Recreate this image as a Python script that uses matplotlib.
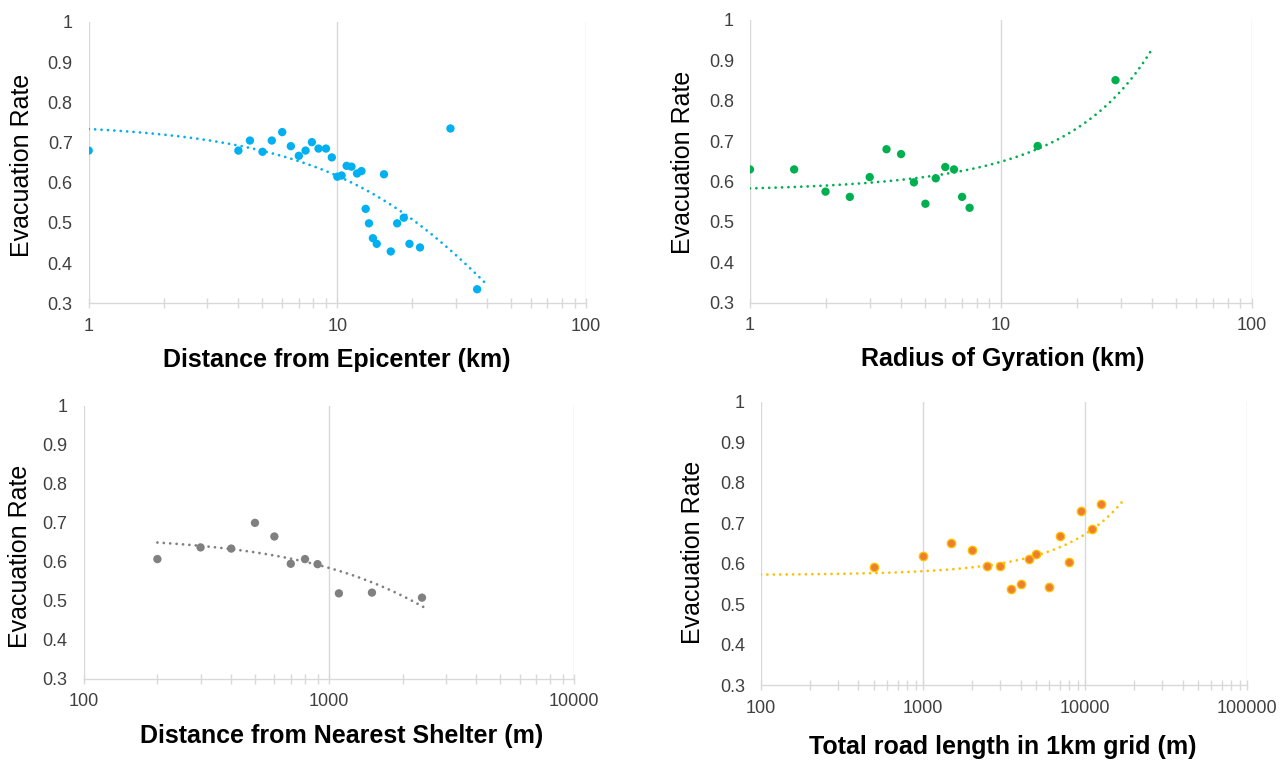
import matplotlib
matplotlib.use("Agg")
import matplotlib.pyplot as plt
import matplotlib.ticker as mticker
import numpy as np

plt.rcParams['font.family'] = ['Liberation Sans', 'DejaVu Sans']

# --- data ---
dist_km = [1.0, 4.0, 4.45, 5.0, 5.45, 6.0, 6.5, 7.0, 7.45, 7.9, 8.4, 9.0, 9.5,
           10.0, 10.4, 10.9, 11.4, 12.0, 12.5, 15.4, 13.0, 13.4, 13.9, 14.4,
           16.4, 17.4, 18.5, 19.5, 21.5, 28.5, 36.5]
rate_dist = [0.68, 0.68, 0.705, 0.677, 0.705, 0.726, 0.691, 0.667, 0.68, 0.701,
             0.685, 0.685, 0.663, 0.615, 0.618, 0.642, 0.640, 0.623, 0.629, 0.621,
             0.535, 0.499, 0.462, 0.448, 0.429, 0.499, 0.513, 0.448, 0.439,
             0.735, 0.335]

gyr_km = [1.0, 1.5, 2.0, 2.5, 3.0, 3.5, 4.0, 4.5, 5.0, 5.5, 6.0, 6.5, 7.0, 7.5,
          14.0, 28.6]
rate_gyr = [0.63, 0.63, 0.575, 0.562, 0.611, 0.68, 0.668, 0.598, 0.545, 0.608,
            0.636, 0.63, 0.562, 0.535, 0.688, 0.851]

shelter_m = [200, 300, 400, 500, 600, 700, 800, 900, 1100, 1500, 2400]
rate_shelter = [0.607, 0.637, 0.634, 0.700, 0.665, 0.595, 0.607, 0.594, 0.519,
                0.521, 0.508]

road_m = [500, 1000, 1500, 2000, 2500, 3000, 3500, 4000, 4500, 5000, 6000, 7000,
          8000, 9500, 11000, 12500]
rate_road = [0.591, 0.620, 0.650, 0.633, 0.594, 0.594, 0.537, 0.551, 0.612,
             0.624, 0.543, 0.669, 0.604, 0.731, 0.685, 0.747]

# trendline extents (Excel forecast range)
trend_dist = (1.0, 40.0)
trend_gyr = (1.0, 39.5)
trend_shelter = (200, 2550)
trend_road = (100, 17600)

yticks = [0.3, 0.4, 0.5, 0.6, 0.7, 0.8, 0.9, 1.0]

GRID = '#d9d9d9'
TICKTXT = '#404040'

fig = plt.figure(figsize=(12.8, 7.6), dpi=100)


def panel(rect, x, y, color, trend, xlim, xlabel, xlab_pos, ylab_pos,
          edge=None):
    ax = fig.add_axes(rect)
    ax.set_xscale('log')
    ax.set_xlim(*xlim)
    ax.set_ylim(0.3, 1.0)

    # exponential trendline, fitted like Excel does (ln y vs x)
    b, ln_a = np.polyfit(np.array(x, float), np.log(y), 1)
    tx = np.linspace(trend[0], trend[1], 400)
    ax.plot(tx, np.exp(ln_a) * np.exp(b * tx), color=edge or color, lw=2.0,
            linestyle=(0, (0.01, 2.3)), dash_capstyle='round', zorder=2)

    ax.scatter(x, y, s=36, color=color, edgecolors=edge or 'none',
               linewidths=1.0 if edge else 0, zorder=3)

    for s in ['top', 'left', 'right']:
        ax.spines[s].set_visible(False)
    ax.spines['bottom'].set_color(GRID)
    ax.spines['bottom'].set_linewidth(1.0)

    ax.xaxis.set_major_locator(mticker.LogLocator(base=10))
    ax.xaxis.set_minor_locator(mticker.LogLocator(base=10, subs=np.arange(2, 10)))
    ax.xaxis.set_major_formatter(mticker.FuncFormatter(lambda v, p: f"{v:g}"))
    ax.xaxis.set_minor_formatter(mticker.NullFormatter())
    ax.tick_params(axis='x', which='both', direction='inout', length=7,
                   color=GRID, width=1.0, labelsize=13, labelcolor=TICKTXT, pad=7)
    ax.grid(axis='x', which='major', color=GRID, lw=1.0)
    ax.set_axisbelow(True)

    ax.set_yticks(yticks)
    ax.yaxis.set_major_formatter(mticker.FuncFormatter(lambda v, p: f"{v:g}"))
    ax.tick_params(axis='y', length=0, labelsize=13, labelcolor=TICKTXT, pad=11.5)

    ax.text(xlab_pos[0], xlab_pos[1], xlabel, transform=ax.transAxes,
            ha='center', va='center', fontsize=18, fontweight='bold',
            color='black')
    ax.text(ylab_pos[0], ylab_pos[1], 'Evacuation Rate', transform=ax.transAxes,
            ha='center', va='center', rotation=90, fontsize=18, color='black')
    return ax


panel([0.0693, 0.6009, 0.3885, 0.3702], dist_km, rate_dist, '#00b0f0',
      trend_dist, (1, 100), 'Distance from Epicenter (km)',
      (0.499, -0.20), (-0.134, 0.49))

panel([0.5859, 0.6017, 0.3922, 0.3720], gyr_km, rate_gyr, '#00b050',
      trend_gyr, (1, 100), 'Radius of Gyration (km)',
      (0.504, -0.20), (-0.134, 0.496))

panel([0.0653, 0.1070, 0.3831, 0.3588], shelter_m, rate_shelter, '#808080',
      trend_shelter, (100, 10000), 'Distance from Nearest Shelter (m)',
      (0.527, -0.212), (-0.13, 0.45))

panel([0.5945, 0.0983, 0.3797, 0.3732], road_m, rate_road, '#ed7d31',
      trend_road, (100, 100000), 'Total road length in 1km grid (m)',
      (0.498, -0.218), (-0.14, 0.468), edge='#ffc000')

fig.savefig('out.png', dpi=100)
